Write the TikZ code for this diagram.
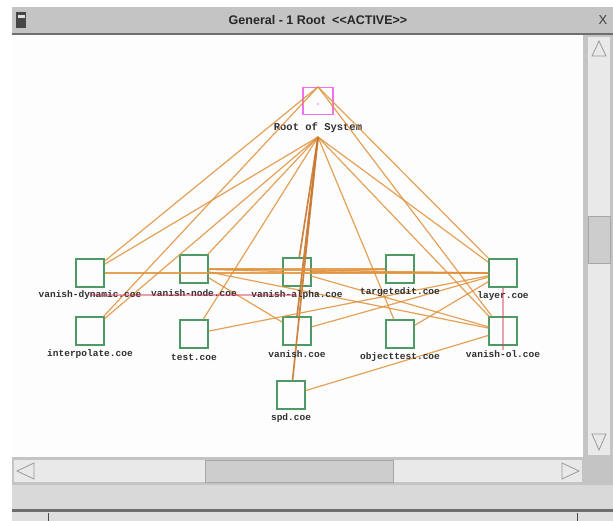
\documentclass[tikz,border=0pt]{standalone}
\usepackage{fontspec}
\setmainfont{Liberation Sans}
\newfontfamily\titlefont{Liberation Sans}
\newfontfamily\labelfont{Liberation Mono}
\definecolor{framegray}{HTML}{C4C4C4}
\definecolor{shadowgray}{HTML}{6E6E6E}
\definecolor{trackgray}{HTML}{E9E9E9}
\definecolor{thumbgray}{HTML}{CDCDCD}
\definecolor{canvaswhite}{HTML}{FDFDFD}
\definecolor{boxgreen}{HTML}{4E9A66}
\definecolor{rootpink}{HTML}{F070F0}
\definecolor{edgeorange}{HTML}{E0913A}
\definecolor{edgebrown}{HTML}{C9782E}
\definecolor{edgered}{HTML}{D83050}
\definecolor{labelgray}{HTML}{303030}
\tikzset{
  module/.style={draw=boxgreen, line width=1.3pt, minimum width=28pt, minimum height=28pt, inner sep=0pt},
  rootbox/.style={draw=rootpink, line width=1.3pt, minimum width=30pt, minimum height=27pt, inner sep=0pt},
  lbl/.style={font=\labelfont\bfseries\fontsize{9.5}{10}\selectfont, text=labelgray, inner sep=0pt},
  rootlbl/.style={font=\labelfont\bfseries\fontsize{10.5}{11}\selectfont, text=labelgray, inner sep=0pt},
  link/.style={draw=edgeorange, line width=1.2pt, opacity=0.85},
  heavylink/.style={draw=edgebrown, line width=1.7pt, opacity=0.9},
  redlink/.style={draw=edgered, line width=1.3pt, opacity=0.45},
  arrowbtn/.style={draw=gray!80, line width=0.8pt, fill=trackgray},
}
\begin{document}
\begin{tikzpicture}[x=1pt,y=-1pt]
\useasboundingbox (0,0) rectangle (613,521);
\fill[white] (0,0) rectangle (613,521);

% ---- title bar ----
\fill[framegray] (12,7) rectangle (613,33);
\fill[shadowgray] (12,33) rectangle (613,35);
\fill[gray!55!black] (16,12) rectangle (26,28);
\fill[gray!25] (17.5,15) rectangle (24.5,18);
\node[font=\titlefont\bfseries\fontsize{12.5}{14}\selectfont, text=black!85] (title) at (318,20) {General - 1 Root\ \ <<ACTIVE>>};
\node[font=\titlefont\fontsize{13}{14}\selectfont, text=black!75] (closebtn) at (603,20) {X};

% ---- drawing canvas ----
\fill[canvaswhite] (12,35) rectangle (583,457);

% ---- vertical scroll bar ----
\fill[framegray] (583,35) rectangle (613,485);
\fill[trackgray] (588,37) rectangle (610,455);
\fill[thumbgray] (588,216) rectangle (610,263);
\draw[gray!70, line width=0.6pt] (588,216) rectangle (610,263);
\draw[arrowbtn] (592,56) -- (599,41) -- (606,56) -- cycle;
\draw[arrowbtn] (592,434) -- (599,450) -- (606,434) -- cycle;

% ---- horizontal scroll bar ----
\fill[framegray] (12,457) rectangle (583,485);
\fill[trackgray] (14,460) rectangle (582,482);
\fill[thumbgray] (205,460) rectangle (393,482);
\draw[gray!70, line width=0.6pt] (205,460) rectangle (393,482);
\draw[arrowbtn] (34,463) -- (17,471) -- (34,479) -- cycle;
\draw[arrowbtn] (562,463) -- (579,471) -- (562,479) -- cycle;

% ---- status bar ----
\fill[gray!30] (12,485) rectangle (613,510);
\fill[white!70!gray] (12,485) rectangle (613,487);
\fill[shadowgray] (12,509) rectangle (613,512);
\fill[gray!25] (12,512) rectangle (613,521);
\draw[gray!60!black, line width=0.8pt] (48,513) -- (48,521);
\draw[gray!60!black, line width=0.8pt] (577,513) -- (577,521);

% ---- modules ----
\node[rootbox] (root) at (318,101) {};
\fill[rootpink] (318,104) circle (0.9pt);
\node[rootlbl] (rootL) at (318,128) {Root of System};
\coordinate (rootb) at (318,137);

\node[module] (dyn)      at (90,273)  {};
\node[module] (node)     at (194,269) {};
\node[module] (alpha)    at (297,272) {};
\node[module] (target)   at (400,269) {};
\node[module] (layer)    at (503,273) {};
\node[module] (interp)   at (90,331)  {};
\node[module] (test)     at (194,334) {};
\node[module] (vanish)   at (297,331) {};
\node[module] (objtest)  at (400,334) {};
\node[module] (vanishol) at (503,331) {};
\node[module] (spd)      at (291,395) {};

% ---- dependency links ----
\draw[link] (root.north) -- (dyn);
\draw[link] (root.north) -- (interp);
\draw[link] (root.north) -- (layer);
\draw[link] (root.north) -- (vanishol);
\draw[link] (rootb) -- (dyn);
\draw[link] (rootb) -- (interp);
\draw[link] (rootb) -- (test);
\draw[link] (rootb) -- (node);
\draw[link] (rootb) -- (objtest);
\draw[link] (rootb) -- (layer);
\draw[link] (rootb) -- (vanishol);
\draw[heavylink] (rootb) -- (alpha);
\draw[heavylink] (rootb) -- (vanish.north);
\draw[heavylink] (rootb) -- (spd);

\draw[link] (node) -- (alpha);
\draw[link] (node) -- (target);
\draw[link] (node) -- (layer);
\draw[link] (node) -- (vanish);
\draw[link] (node) -- (vanishol);
\draw[link] (alpha) -- (target);
\draw[link] (alpha) -- (layer);
\draw[link] (alpha) -- (vanishol);
\draw[link] (dyn) -- (layer);
\draw[link] (test) -- (layer);
\draw[link] (vanish) -- (layer);
\draw[link] (objtest) -- (layer);
\draw[link] (spd) -- (vanishol);

% ---- module names ----
\node[lbl] (dynL)      at (90,295)  {vanish-dynamic.coe};
\node[lbl] (nodeL)     at (194,293) {vanish-node.coe};
\node[lbl] (alphaL)    at (297,295) {vanish-alpha.coe};
\node[lbl] (targetL)   at (400,292) {targetedit.coe};
\node[lbl] (layerL)    at (503,296) {layer.coe};
\node[lbl] (interpL)   at (90,354)  {interpolate.coe};
\node[lbl] (testL)     at (194,357) {test.coe};
\node[lbl] (vanishL)   at (297,354) {vanish.coe};
\node[lbl] (objtestL)  at (400,357) {objecttest.coe};
\node[lbl] (vanisholL) at (503,354) {vanish-ol.coe};
\node[lbl] (spdL)      at (291,418) {spd.coe};

% ---- highlighted links ----
\draw[redlink] (dynL.center) -- (alphaL.center);
\draw[redlink] (layer.south) -- (vanisholL.north);
\end{tikzpicture}
\end{document}
